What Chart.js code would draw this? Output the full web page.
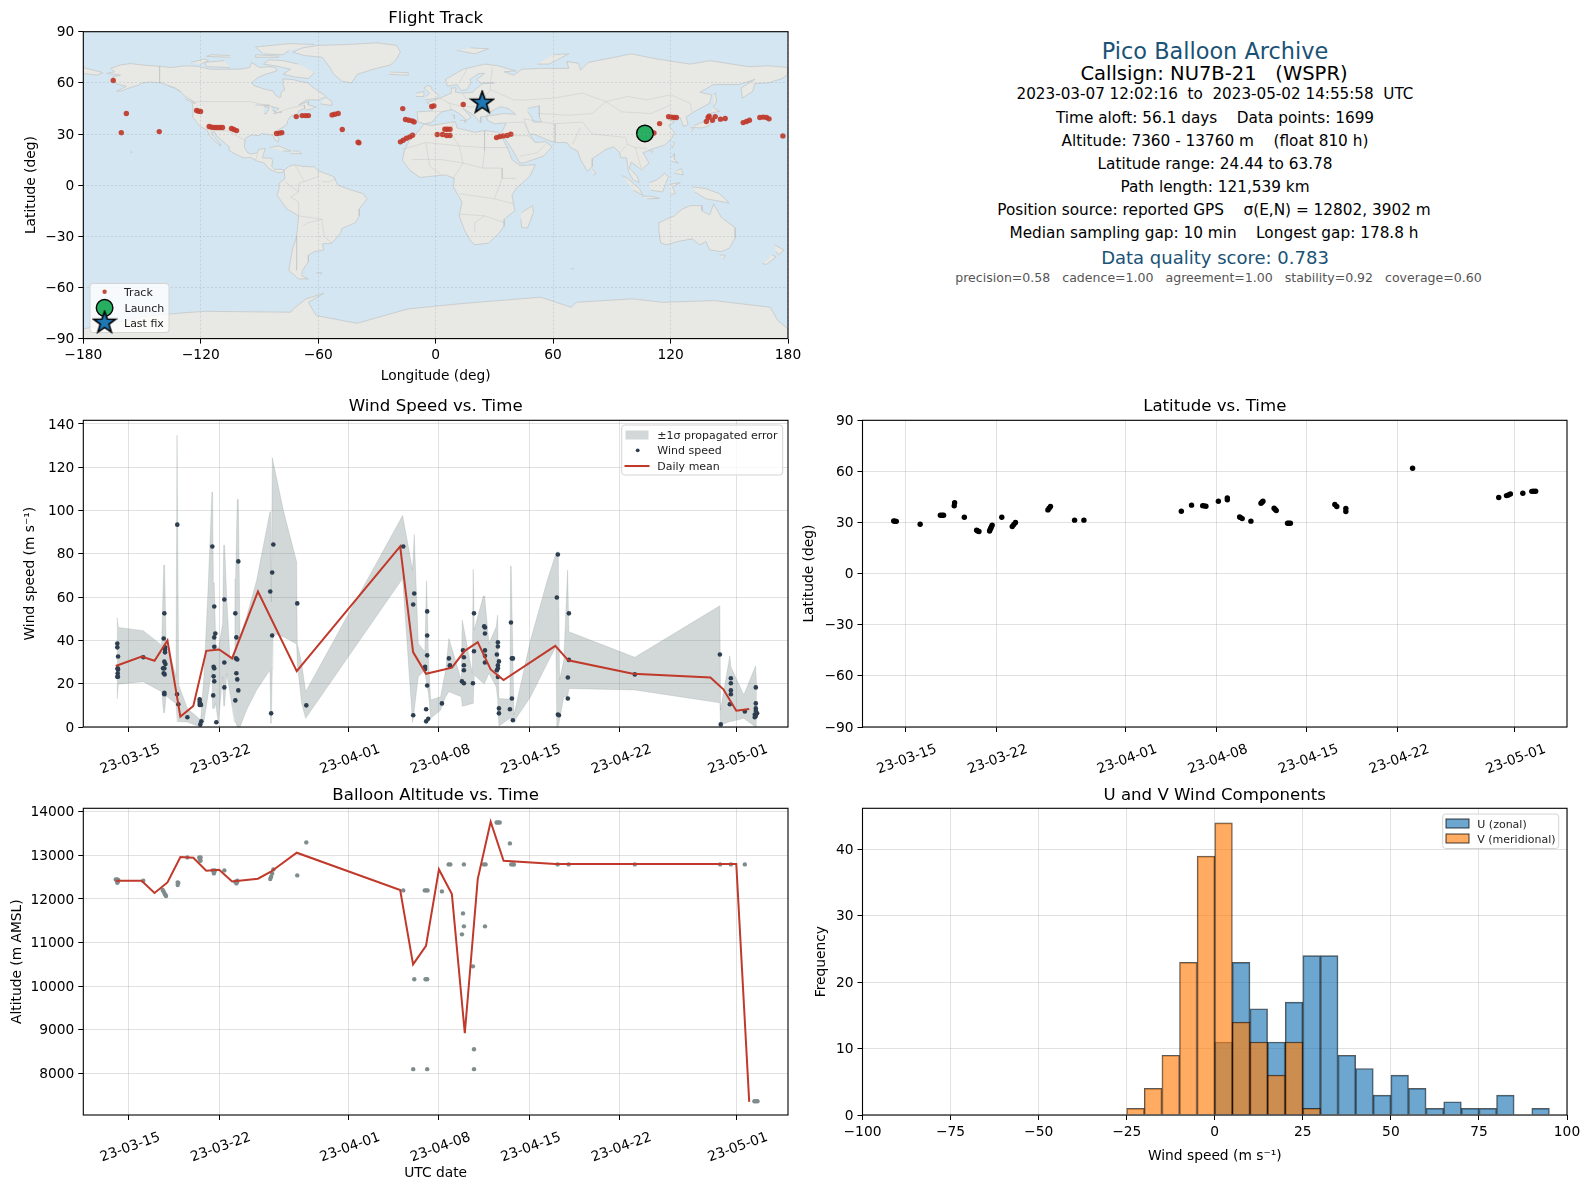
<!DOCTYPE html>
<html>
<head>
<meta charset="utf-8">
<title>Pico Balloon Archive</title>
<script src="https://cdn.jsdelivr.net/npm/chart.js@4"></script>
<style>
  html, body { margin: 0; padding: 0; background: #fff; }
  #page { position: relative; width: 1590px; height: 1189px; overflow: hidden; font-family: "DejaVu Sans", sans-serif; }
  canvas { position: absolute; }
  .info { position: absolute; left: 840px; width: 750px; text-align: center; white-space: pre; transform: translateY(-50%); color: #000; }
</style>
</head>
<body>
<div id="page">
  <canvas id="mapChart"></canvas>
  <canvas id="windChart"></canvas>
  <canvas id="latChart"></canvas>
  <canvas id="altChart"></canvas>
  <canvas id="histChart"></canvas>
</div>
<script>
// ---- tick labels
const dateTicks = [14, 21, 31, 38, 45, 52, 61]; // days since 2023-03-01
const dateTickLabels = ["23-03-15", "23-03-22", "23-04-01", "23-04-08", "23-04-15", "23-04-22", "23-05-01"];
const lonTicks = [-180, -120, -60, 0, 60, 120, 180];
const latTicks = [-90, -60, -30, 0, 30, 60, 90];
const windTicks = [0, 20, 40, 60, 80, 100, 120, 140];
const altTicks = [8000, 9000, 10000, 11000, 12000, 13000, 14000];
const histXTicks = [-100, -75, -50, -25, 0, 25, 50, 75, 100];
const histYTicks = [0, 10, 20, 30, 40];

// ---- text panel
const infoLines = [
  ["Pico Balloon Archive", 50.7, 22.4, "#1a5276", 0],
  ["Callsign: NU7B-21   (WSPR)", 73, 19.55, "#000", -1],
  ["2023-03-07 12:02:16  to  2023-05-02 14:55:58  UTC", 93.5, 15.2, "#000", 0],
  ["Time aloft: 56.1 days    Data points: 1699", 117.5, 15.3, "#000", 0],
  ["Altitude: 7360 - 13760 m    (float 810 h)", 140.5, 15.3, "#000", 0],
  ["Latitude range: 24.44 to 63.78", 163.5, 15.3, "#000", 0],
  ["Path length: 121,539 km", 186.5, 15.3, "#000", 0],
  ["Position source: reported GPS    σ(E,N) = 12802, 3902 m", 209.5, 15.3, "#000", -1],
  ["Median sampling gap: 10 min    Longest gap: 178.8 h", 232.5, 15.3, "#000", -1],
  ["Data quality score: 0.783", 257, 18, "#1a5276", 0],
  ["precision=0.58   cadence=1.00   agreement=1.00   stability=0.92   coverage=0.60", 277, 12.55, "#555", 3.5]
];

// ---- flight track
const trackLon = [-164.7,-158,-160.6,-141.2,-122.1,-121.1,-120.1,-115.7,-114.3,-112.9,-111.6,-110.2,-108.9,-104.3,-103.1,-101.7,-81.3,-79.9,-78.6,-71.2,-68.2,-66.5,-65,-52.9,-51.5,-49.8,-47.7,-39.6,-39.2,-16.8,-15.4,-13.7,-12,-11,-18,-16.6,-14.9,-13.2,-11.8,-2,-0.9,14.1,4.7,5.9,7.3,0.8,3.5,5.6,7.3,31.1,32.8,34.5,36.6,38.4,111.5,114.4,119,120.5,121.8,123,138.3,139.2,139.7,141.4,142.8,145.5,147.9,157.1,158.8,160.3,165.6,167.3,169,170.3,177.4];
const trackLat = [61.4,42,30.8,31.4,43.8,43.4,43.2,34.4,34,33.8,33.8,33.8,33.8,33.2,32.6,32,30.3,30.5,30.8,40.2,40.8,40.8,40.8,41.2,41.6,42,32.6,25.2,24.8,44.9,38.5,38.1,37.7,37.1,25.4,26.3,27.5,28.3,29.3,46.1,46.5,47.3,32.8,32.8,32.8,29.7,29.7,29.1,29.1,27.9,28.5,28.9,29.1,29.9,30.6,36.1,40.2,39.9,39.7,39.7,37.3,39.7,40.4,38.1,40.2,38.7,39.1,36.7,37.3,38.1,39.7,39.9,39.7,38.9,28.9];
const launchLon = [106.9];
const launchLat = [30.3];
const lastFixLon = [23.8];
const lastFixLat = [48.3];

// ---- land outlines, lon/lat pairs
const northAmerica = [[-168,65.5],[-164,66.5],[-166,68.5],[-161,70.5],[-156,71.3],[-148,70.3],[-141,69.7],[-135,69],[-128,70],[-122,69.8],[-115,68],[-108,68],[-100,68],[-95,69],[-94,72],[-90,69],[-85,69.5],[-82,69],[-81,67],[-87,65],[-91,63],[-94,60],[-93,58.5],[-88,56.5],[-83,55.2],[-82,53],[-80,51.3],[-79,52],[-79,54.5],[-77,56],[-78,59],[-78,62.3],[-73,62],[-70,61],[-65,60],[-64,58.5],[-61,56],[-57,53],[-56,51.7],[-60,50],[-66,50],[-70,47],[-65,49],[-65,47],[-61,46],[-64,44.5],[-66,44],[-67,45],[-70,43.5],[-70.5,41.7],[-74,40.5],[-75.5,38],[-76,35.5],[-78,34],[-81,32],[-81.3,30],[-80,27],[-80.5,25.2],[-82,26.5],[-83,29],[-85,29.7],[-89,30.2],[-90,29],[-94,29.5],[-97.3,27.5],[-97.7,22.5],[-96,19],[-94,18.2],[-91,19],[-90.5,21],[-87,21.5],[-88,18],[-88.5,16],[-84,15.8],[-83.3,14.5],[-83.7,11],[-82,9],[-79.5,9.5],[-77.5,8.6],[-78,7.5],[-80.5,7.3],[-83,8.3],[-85.5,10],[-87.5,13],[-91,14],[-94.5,16.2],[-98,16],[-102,18],[-105.5,20.3],[-105.5,22.5],[-109,26],[-112,29],[-113,31.3],[-114.7,31],[-113,28],[-110,24],[-110,23],[-112,25],[-115,28.5],[-117,32.5],[-120.5,34.5],[-122.5,37.5],[-124.3,40.5],[-124,46],[-124.5,48.3],[-122.5,48],[-125,50],[-128,52],[-130,54.5],[-133,57],[-137,58.5],[-140,60],[-146,60.5],[-150,60],[-152,58.5],[-156,57.2],[-160,55.5],[-163,55],[-158,58],[-162,59],[-165,61],[-165,63.5],[-161,64.5],[-168,65.5]];
const southAmerica = [[-77.5,8.6],[-75,11],[-72,12],[-68,11],[-62,10.7],[-60,8.5],[-52,5],[-50,0],[-44,-2.5],[-37,-5],[-35,-8],[-39,-14],[-39,-18],[-41,-22],[-48,-25.5],[-48.5,-28],[-53,-34],[-58,-34.5],[-57,-38],[-62,-39],[-65,-41],[-65,-45],[-68,-50],[-68.5,-53],[-65,-55],[-70,-55],[-75,-50],[-74,-43],[-73,-37],[-71,-30],[-70,-18],[-76,-14],[-81,-6],[-80,-2],[-80,1],[-77,4],[-77.5,8.6]];
const africa = [[-6,35.8],[-2,35],[10,37.3],[11,33.5],[20,31],[25,32],[32,31],[34,28],[37,21],[39,15],[43,11.5],[51,12],[48,5],[41,-2],[39,-6],[40.5,-15],[35,-20],[35,-24],[32.5,-28],[27,-34],[20,-35],[18,-33],[15,-27],[12,-18],[13.5,-10],[9,-1],[9.5,4],[5,6],[-4,5],[-8,4.5],[-13,8.5],[-17,14.7],[-16,20],[-13,27.5],[-10,30],[-6,35.8]];
const eurasia = [[-9,37],[-9.5,43],[-2,43.5],[-1,46],[-4.5,48.5],[2,51],[8,54],[8,57],[10.5,57],[10,54.5],[14,54],[19,54.5],[21,57],[24,59.5],[30,60],[23,60],[21,62],[25,65.5],[22,65.5],[17.5,62],[18,60],[16,56],[13,55.5],[11,59],[6,58],[5,62],[14,68],[25,71],[32,70],[41,67],[35,66.5],[40,64.5],[44,68],[54,68.5],[68,68.5],[67,72.5],[73,71.5],[74,67.5],[78,72],[87,74],[100,77],[113,74],[130,71],[140,73],[160,69.5],[170,70],[180,69],[180,65],[177,62.5],[170,60],[163,59.5],[162,55],[156.7,51],[156,57],[163,62],[155,59],[142,59],[135,54.5],[141,53],[140,48],[132,43],[128,40],[129,35.5],[126.5,34.5],[125,39.5],[121,39],[118,39],[122,37],[119,35],[122,31],[121,28],[117,23.5],[110,21],[106,19],[109,13],[105,9],[103,11],[100,13.5],[99,10],[103,5],[104,1.5],[101,3],[98.5,8],[97.5,16],[94.5,16],[94,19],[91,22.5],[87,21],[80,15.5],[80,11],[77.5,8],[74,15],[72.5,20],[69,22],[67,25],[61,25],[57,26.5],[50,30],[48,29.5],[51,25],[56,25.5],[59.5,22.5],[55,17],[45,13],[43,13],[39,21],[35,28],[32.5,30],[34,31.5],[36,36.5],[30,36],[26.5,38],[26,40.5],[29,41],[35,42],[41,41.5],[37,45],[33,46],[28,43],[26,40.5],[23,40],[23,36.5],[19.5,41],[14,45],[18,40],[16,38],[12,42],[8.5,44.3],[3,43],[0,39.5],[-2,36.8],[-5.5,36],[-9,37]];
const australia = [[114,-22],[122,-18],[126,-14],[130,-12],[136,-12],[136,-15],[140,-17.5],[142,-11],[146,-19],[153,-25],[153,-31],[150,-37],[146,-39],[140,-38],[138,-33],[135,-35],[131,-31.5],[124,-33],[118,-35],[115,-34],[114,-27],[114,-22]];
const greenland = [[-73,78],[-68,80.5],[-60,82],[-45,82.5],[-30,83.5],[-20,82],[-18,78],[-20,74],[-23,70.5],[-32,68],[-40,65],[-43,60],[-48,61],[-52,65],[-54,69],[-58,75],[-67,76],[-73,78]];
const antarctica = [[-180,-90],[-180,-84.3],[-160,-80],[-150,-77],[-130,-75],[-118.3,-74],[-74,-74.5],[-72.8,-72.6],[-66.2,-66.7],[-57.1,-63.4],[-65,-68.7],[-61,-76.5],[-40.2,-81],[-14.1,-72.6],[12,-69.6],[53.6,-65.7],[69.3,-71.6],[71.9,-68.7],[100.5,-66.7],[116.2,-68.7],[142.2,-67.7],[170.9,-71.6],[174.8,-79.4],[180,-84.3],[180,-90],[-180,-90]];
const islands = [
  [[-62,66],[-65,62.5],[-72,63.5],[-78,65],[-74,68],[-82,70],[-88,71],[-85,73.5],[-78,73],[-70,71]],
  [[-105,69],[-117,69.5],[-118,72],[-108,73]],
  [[-62,82.5],[-75,83],[-92,81],[-88,77],[-78,76.5],[-75,79]],
  [[-125,72],[-118,74],[-116,73],[-120,71]],
  [[-80,75],[-92,75],[-92,76.5],[-80,75.7]],
  [[-105,75],[-117,75.5],[-115,76.5],[-105,76]],
  [[-59,47.7],[-53,46.7],[-53,49],[-56,51.5]],
  [[-85,22],[-80,23],[-74,20],[-78,20]],
  [[-74,18.5],[-68.5,18.5],[-70,20],[-73,20]],
  [[-156,20],[-155,19.2],[-155.9,19]],
  [[-128,50.5],[-124,48.5],[-125,50.5]],
  [[-180,69],[-175,67.5],[-170,66],[-173,64.5],[-180,65.5]],
  [[-5.5,50],[1,51],[1.5,53],[-2,56],[-2,57.5],[-4,58.5],[-6,57],[-3,54],[-5,52]],
  [[-10,52],[-6,52],[-6,55],[-10,54]],
  [[-24,65],[-14,64.5],[-14,66],[-23,66.3]],
  [[11,79],[20,77],[27,80],[18,80.5]],
  [[52,71],[58,71],[68,77],[60,76.5]],
  [[12.5,38],[15.5,38],[15,36.7]],
  [[8.3,41],[9.7,41],[9.5,39]],
  [[44,-16],[49.5,-12],[50,-16],[47,-25],[44,-25],[43.5,-20]],
  [[80,9.5],[82,7],[80.5,6]],
  [[130.8,34],[136,33.5],[140,35],[141.5,38.5],[141,41],[139.8,39],[136.5,37],[132,35]],
  [[140,42],[145,43.3],[142,45.5]],
  [[130,33.5],[131.8,33.5],[130.5,31.2]],
  [[142,46],[143.5,49],[143,54],[142,53]],
  [[120.2,23],[121,22],[122,25],[121,25.2]],
  [[109,20],[111,20],[110,18.3]],
  [[120.3,16],[122,18.5],[122,15],[124,13],[120.5,14]],
  [[122,7],[126.5,6],[125.5,9.7],[123,8.5]],
  [[109,1.5],[113,3],[117,7],[119,5],[117.5,1],[116,-4],[110,-3]],
  [[95.3,5.6],[98,4],[104,-2],[106,-6],[101,-3]],
  [[105.5,-6.5],[110,-6.5],[114.5,-7.8],[108,-8]],
  [[119.5,0.5],[125,1.5],[121,-1],[122.5,-5],[120,-5.5]],
  [[131,-1],[138,-2],[145,-5],[150,-10.5],[143,-9],[138,-8],[132.5,-4]],
  [[145,-41],[148,-41],[147,-43.5]],
  [[173,-35],[178,-38],[175,-41],[174,-39]],
  [[172,-41],[174,-42],[169,-46.5],[167,-46]],
  [[-61,-51.5],[-58,-51.5],[-59,-52.3]],
  [[69,-49],[70.5,-49],[70,-49.7]]
];
const lakes = [
  [[47,45],[53,46.5],[53,40],[54,37],[50,37],[49,40],[47,43]],
  [[-92,47],[-85,47],[-85,46.5],[-88,46.5]],
  [[-87.5,46],[-85,45.5],[-86.5,42],[-87.8,42]],
  [[-84,46],[-80,45],[-82,43],[-83.5,44]],
  [[-83,42],[-79,43],[-79,42.5]]
];
const borders = [
  [[-141,69.7],[-141,60]],[[-137,58.5],[-130,55]],[[-123,49],[-95,49],[-83,46],[-82,42],[-75,45],[-67,47],[-67,45]],
  [[-117,32.5],[-106,31.7],[-97,26]],[[-92,14.5],[-91,18]],[[-70,-18],[-58,-20],[-57,-30],[-53,-34]],
  [[-70,-18],[-70,-10],[-74,-7],[-70,-4],[-77,2]],[[-70,-4],[-70,1],[-60,5],[-60,8.5]],[[-71,-30],[-71,-50]],
  [[-58,-20],[-65,-22],[-68,-24]],[[-72,12],[-67,2]],[[-58,2],[-54,2],[-51,4]],
  [[-17,21],[-5,25],[12,23],[25,22],[37,22]],[[25,32],[25,20],[24,10],[34,10],[34,4],[41,4]],[[12,23],[14,13],[9,4]],
  [[-5,25],[-3,11],[3,6]],[[12,-5],[30,-8],[40,-11]],[[12,-17],[25,-18],[35,-22]],[[20,-28],[20,-22],[25,-18]],
  [[9,37],[8,30],[12,23]],[[-12,15],[3,15],[14,13]],[[34,4],[30,-8]],[[14,13],[24,10]],
  [[28,56],[40,50],[47,50],[60,51],[75,54],[87,49],[98,52],[108,50],[120,53],[130,48],[131,43]],
  [[75,37],[80,30],[97,28],[98,24],[102,22],[108,21.5]],[[87,49],[95,43],[110,42],[120,47]],
  [[52,42],[68,41],[80,42],[87,49]],[[45,39],[48,30]],[[61,36],[61,25]],[[45,39],[54,37],[61,36],[75,37]],
  [[74,34],[70,24]],[[36,36.5],[45,37],[48,30]],[[35,29],[47,29],[51,25]],[[43,17],[52,19],[56,24]],
  [[2,51],[7,48],[14,46],[20,46],[28,45]],[[24,50],[28,45]],[[14,54],[15,51],[24,50],[28,56],[28,60]],
  [[-2,43.5],[3,43]],[[7,48],[8,44]],[[12,60],[16,68]],[[28,60],[29,69]],[[98,24],[94,19]],[[102,22],[105,10]]
];

// ---- wind speed samples
const windDays = [13.12,13.12,13.18,13.15,13.18,13.15,13.12,13.17,13.15,15.13,16.76,16.71,16.81,16.81,16.81,16.76,16.84,16.66,16.76,16.71,16.78,16.76,16.76,17.76,17.74,17.84,18.54,19.49,19.49,19.49,19.59,19.52,19.62,19.54,20.47,20.62,20.7,20.62,20.62,20.57,20.62,20.57,20.62,20.54,20.78,21.4,21.4,21.4,22.25,22.33,22.3,22.4,22.33,22.4,22.48,22.25,22.48,24.95,25.1,25.19,25.1,25.02,27.04,27.74,35.24,36.09,36.01,36.01,37.09,37.09,37.09,36.93,36.93,37.09,37.01,37.01,37.17,38.23,38.77,38.85,38.85,39.86,39.93,39.93,39.93,39.78,39.93,40.71,40.71,40.63,41.5,41.56,41.56,41.56,41.56,41.56,42.56,42.56,42.48,42.64,42.56,42.56,42.48,42.56,42.64,42.64,43.57,43.64,43.72,43.64,43.49,43.72,47.2,47.12,47.2,47.28,48.05,48.05,47.97,47.97,53.15,59.73,59.8,60.58,60.58,60.58,60.58,60.5,61.66,62.51,62.51,62.51,62.51,62.61,62.43,62.51,62.43];
const windValues = [38.6,36.8,32.6,27.1,26.6,24.8,23.2,23.2,26.8,32.2,52.5,40.9,36.8,35.8,34.5,30.2,29.1,27.1,27.1,24.8,24.3,15.8,15.1,93.5,15.1,10.5,4.5,12.8,11.7,10.2,10.2,10.9,2.6,1.2,83.4,55.7,43.2,41.4,37.1,27.8,27.1,23.4,21.1,14.6,2.2,58.9,29.8,18.3,52.5,41.4,31.7,31.2,24.8,22,16.9,12.3,76.5,62.6,71.4,84.3,42.3,6.3,57.1,10,83.4,61.7,56.6,5.4,53.4,42.3,33.1,27.8,26.8,19.2,8.2,2.6,3.8,10.9,31.7,28.5,28.2,35.4,32.2,28.5,26.2,21.1,20.2,52.5,35,20.2,46.5,46,43.2,35.4,32.9,29.8,39.1,37.2,33.5,30.3,28.5,27.1,26.2,23.1,8.6,6.3,48.3,31.7,31.7,13.2,8.2,3.1,79.7,59.8,5.8,5.4,52.5,31,22.9,13.2,24.3,33.5,1.2,22.5,20.2,16.9,15.1,10.5,7.2,18.3,10.9,8.6,7.5,6.3,5.7,5.1,4.5];
const meanDays = [13,15,16,17,18,19,20,21,22,24,27,35,36,37,38,39,40,41,42,43,47,48,53,59,60,61,62];
const meanWind = [28.2,32.6,30.6,40,4.8,9.7,35.2,35.8,31.7,62.6,25.8,83.4,34.6,24.6,26,27.4,35.2,39.2,26.6,21.7,37.5,30.8,24.6,22.9,17.4,7.5,8.3];
const bandDays = [13.07,13.12,13.2,15.13,16.55,16.71,16.78,16.89,17.66,17.74,17.79,17.87,18.54,19.13,19.57,19.82,20.16,20.44,20.49,20.55,20.62,20.73,20.93,21.27,21.35,21.42,21.58,21.84,22.17,22.22,22.27,22.4,22.48,22.61,23.12,23.9,24.93,24.98,25.03,25.11,25.16,25.96,26.99,27.04,27.38,27.69,35.19,35.96,36.09,36.4,36.91,37.04,37.2,37.36,38.13,38.52,38.77,39.73,39.8,39.93,40.58,40.65,40.73,41.43,41.53,41.87,42.43,42.54,42.64,43.49,43.54,43.59,43.8,45.09,46.38,47.05,47.12,47.23,47.33,47.66,47.95,48.05,53.15,59.73,59.78,60.5,60.58,61.58,62.49,62.59];
const bandUpper = [50.2,50.2,46,44.5,37.8,74.8,74.8,39.8,23.2,134.8,134.8,19.4,8.6,5.5,3.2,23.2,66.3,108.6,108.6,66.3,66.6,38.6,35.5,47.8,84,84,60.2,30.9,34,68.3,68.3,105.1,105.1,41.7,50.9,67.8,99.4,99.4,57.8,124.5,124.5,100.2,76.3,38.6,29.4,16.3,97.7,72.5,88.9,38.6,34.8,67.5,30,12.5,14,26.3,40.9,21.7,49.4,45.5,24.8,72.8,44.8,60.5,60.5,38.6,46.3,51.7,13.2,12.8,74.3,74.3,5.5,40.2,67.8,80.2,80.9,80.9,21.7,30.9,72.5,44,32.2,56,7.8,32.8,27.8,14.8,28.2,17.4];
const bandLower = [13.2,13.2,19.8,20.9,16.3,6.6,6.6,14.3,10.9,2.5,2.5,2.5,2.3,0.9,0,2.5,15.5,26.3,8.6,8.6,8.6,10.9,1.7,23.2,9.7,9.7,24.8,15.5,2.3,2.3,2.3,0,0,0,7.8,17.1,26.3,1.7,1.7,27.1,43.2,41.7,38.3,29.4,10.9,4,68.6,2,7.8,23.2,26.3,20.2,15,4,7.8,14,16.3,14,9.7,9.7,10.9,10.9,24,20.2,20.2,24.8,18.6,13.2,0.5,4,4,3.2,2.5,14,29.4,37.1,0.2,0.2,3.2,14,14,17.8,17.1,11.2,0.9,2.5,2.5,4,0,0];

// ---- latitude samples
const latDays = [13.1,13.2,13.3,15.14,16.7,16.83,16.95,17.77,17.8,18.55,19.5,19.58,19.68,20.5,20.55,20.6,20.65,20.7,21.44,22.25,22.37,22.5,25,25.1,25.2,27.06,27.78,35.3,36.09,36.95,37.05,37.2,38.16,38.85,38.85,39.8,39.88,40,40.67,41.45,41.53,41.6,42.46,42.55,42.63,43.5,43.6,43.72,47.15,47.3,48,48,53.15,59.8,60.4,60.55,60.7,61.66,62.35,62.48,62.65];
const latValues = [30.9,30.8,30.7,29,34.3,34.3,34.3,39.8,41.6,33.1,25.5,25.1,24.7,25,26,26.8,27.6,28.5,33.1,27.7,28.9,30,37.4,38.4,39.4,31.4,31.4,36.6,40.2,39.9,39.8,39.6,42.5,44.5,43.3,33.3,32.9,32.3,30.8,41.3,41.9,42.5,38.4,37.7,37,29.6,29.6,29.6,40.6,39.4,38.2,36.5,61.9,44.7,45.8,46.2,46.8,47.2,48.3,48.4,48.4];

// ---- altitude samples
const altDays = [13,13.12,13.2,13.12,13.07,13.17,15.13,16.63,16.71,16.78,16.84,16.89,17.79,17.79,17.84,18.54,19.46,19.56,19.51,19.56,20.49,20.67,20.59,20.62,21.4,22.25,22.4,22.33,22.4,24.95,25.02,25.1,25.19,27.04,27.74,35.24,36.9,37.01,37.12,36.09,36.96,37.09,36.01,37.09,38.23,38.75,38.88,39.93,39.86,39.93,39.78,41.48,41.61,41.56,42.46,42.58,42.7,43.49,43.59,43.72,43.8,47.18,48.03,53.15,59.75,60.58,61.66,62.4,62.51,62.64];
const altValues = [12448,12448,12430,12372,12420,12400,12417,12203,12165,12119,12089,12066,12379,12318,12364,12953,12953,12953,12907,12876,12654,12654,12586,12616,12654,12394,12417,12356,12394,12456,12509,12586,12677,12540,13297,12196,12196,12196,12196,10156,10156,10156,8092,8092,12173,12792,12792,12792,11668,11370,11187,12792,12792,11370,13755,13755,13755,13274,12792,12792,12792,12792,12792,12792,12792,12792,12792,7356,7356,7356];
const altMeanDays = [13,15,16,17,18,19,20,21,22,24,25,27,35,36,37,38,39,40,41,42,43,47,48,53,59,60,61,62];
const altMean = [12417,12417,12135,12379,12960,12945,12647,12670,12402,12463,12624,13060,12203,10497,10925,12677,12112,8916,12456,13771,12876,12800,12800,12800,12800,12800,12800,7341];
const altExtraDays = [40.63,40.71,40.71];
const altExtraValues = [10452,8549,8092];

// ---- histogram
const binCentres = [-97.5,-92.5,-87.5,-82.5,-77.5,-72.5,-67.5,-62.5,-57.5,-52.5,-47.5,-42.5,-37.5,-32.5,-27.5,-22.5,-17.5,-12.5,-7.5,-2.5,2.5,7.5,12.5,17.5,22.5,27.5,32.5,37.5,42.5,47.5,52.5,57.5,62.5,67.5,72.5,77.5,82.5,87.5,92.5,97.5];
const uCounts = [0,0,0,0,0,0,0,0,0,0,0,0,0,0,0,0,0,0,0,0,11,23,16,11,17,24,24,9,7,3,6,4,1,2,1,1,3,0,1,0];
const vCounts = [0,0,0,0,0,0,0,0,0,0,0,0,0,0,0,1,4,9,23,39,44,14,11,6,11,1,0,0,0,0,0,0,0,0,0,0,0,0,0,0];

const RED = "#c0392b", DARK = "#2c3e50", GREY = "#7f8c8d", OCEAN = "#d4e6f1", LAND = "#e8e8e4", COAST = "#c4c8c8";
const FONT = "'DejaVu Sans', sans-serif";
Chart.defaults.font.family = FONT;
Chart.defaults.color = "#000";

const pts = (xs, ys) => xs.map((x, i) => ({ x: x, y: ys[i] }));
const pairs = (arr) => arr.map(p => ({ x: p[0], y: p[1] }));
const minus = (v) => String(v).replace("-", "\u2212");

// 5 point star, chart.js 'star' is only an asterisk
function starSprite(size) {
  const c = document.createElement("canvas");
  c.width = c.height = size;
  const g = c.getContext("2d");
  const m = size / 2, R = m - 1.5, r = R * 0.4;
  g.beginPath();
  for (let i = 0; i < 10; i++) {
    const a = -Math.PI / 2 + i * Math.PI / 5, d = i % 2 ? r : R;
    g.lineTo(m + d * Math.cos(a), m + d * Math.sin(a));
  }
  g.closePath();
  g.fillStyle = "#1f77b4";
  g.strokeStyle = "#000";
  g.lineWidth = 1.6;
  g.fill();
  g.stroke();
  return c;
}
const STAR = starSprite(26);

// border round the plot area, drawn on top of everything
const framePlugin = {
  id: "frame",
  afterDraw(chart) {
    const a = chart.chartArea, g = chart.ctx;
    g.save();
    g.strokeStyle = "#000";
    g.lineWidth = 1.1;
    g.strokeRect(a.left, a.top, a.right - a.left, a.bottom - a.top);
    g.restore();
  }
};

function legendPlugin(box, items) {
  return {
    id: "boxLegend",
    afterDraw(chart) {
      const g = chart.ctx;
      g.save();
      g.beginPath();
      g.roundRect(box.x, box.y, box.w, box.h, 3);
      g.fillStyle = "rgba(255,255,255,0.8)";
      g.fill();
      g.strokeStyle = "#d4d4d4";
      g.lineWidth = 1;
      g.stroke();
      g.font = "11px " + FONT;
      g.textBaseline = "middle";
      items.forEach(it => {
        const mx = it.mx, my = it.y;
        if (it.kind === "dot") {
          g.beginPath(); g.arc(mx, my, it.r, 0, Math.PI * 2); g.fillStyle = it.color; g.fill();
          if (it.edge) { g.strokeStyle = it.edge; g.lineWidth = 1.4; g.stroke(); }
        } else if (it.kind === "star") {
          g.drawImage(STAR, mx - 13, my - 13);
        } else if (it.kind === "line") {
          g.beginPath(); g.moveTo(mx - 12.5, my); g.lineTo(mx + 12.5, my); g.strokeStyle = it.color; g.lineWidth = 2; g.stroke();
        } else if (it.kind === "patch") {
          g.fillStyle = it.color; g.fillRect(mx - 11.5, my - 4.5, 23, 9);
          if (it.edge) { g.strokeStyle = it.edge; g.lineWidth = 1; g.strokeRect(mx - 11.5, my - 4.5, 23, 9); }
        }
        g.fillStyle = "#222";
        g.fillText(it.label, it.tx, my + 1.2);
      });
      g.restore();
    }
  };
}

function axis(opt) {
  const left = opt.pos === "left";
  return {
    type: "linear",
    position: opt.pos,
    min: opt.min,
    max: opt.max,
    offset: false,
    afterBuildTicks: s => { s.ticks = opt.ticks.map(v => ({ value: v })); },
    afterFit: s => {
      if (left) { s.width = opt.size; s.paddingTop = 0; s.paddingBottom = 0; }
      else { s.height = opt.size; s.paddingLeft = 0; s.paddingRight = 0; }
    },
    title: opt.title ? { display: true, text: opt.title, font: { size: 13.8 }, padding: left ? { top: opt.titlePad, bottom: 0 } : { top: 0, bottom: opt.titlePad } } : { display: false },
    border: { display: false, dash: opt.dash || [] },
    grid: { offset: false, color: opt.gridColor || "rgba(176,176,176,0.38)", lineWidth: 1, z: opt.gridZ || -1, tickColor: "#000", tickLength: 5, tickBorderDash: [] },
    ticks: {
      autoSkip: false,
      padding: opt.rotate ? 9 : 4,
      font: { size: 13.8 },
      minRotation: opt.rotate || 0,
      maxRotation: opt.rotate || 0,
      labelOffset: opt.rotate ? 31 : (left ? 1 : 0),
      callback: opt.labels ? (v, i) => opt.labels[i] : v => minus(v)
    }
  };
}

// one axes panel; box is the canvas in page pixels, plus the gaps to the plot area
function panel(id, box, title, scales, datasets, extra) {
  const cv = document.getElementById(id);
  cv.width = box.w; cv.height = box.h;
  cv.style.left = box.x + "px";
  cv.style.top = box.y + "px";
  cv.style.width = box.w + "px";
  cv.style.height = box.h + "px";
  const gap = box.gap === undefined ? 4 : box.gap;
  return new Chart(cv, {
    type: extra && extra.type || "scatter",
    data: { datasets: datasets },
    options: {
      responsive: false,
      devicePixelRatio: 1,
      animation: false,
      events: [],
      layout: { padding: { left: 0, right: box.r, top: 0, bottom: 0 } },
      plugins: {
        legend: { display: false },
        tooltip: { enabled: false },
        title: { display: true, fullSize: false, text: title, color: "#000", font: { size: 16.6, weight: "normal", lineHeight: 1.2 }, padding: { top: box.t - 19.92 - gap, bottom: gap } }
      },
      scales: scales
    },
    plugins: [framePlugin].concat(extra && extra.plugins || [])
  });
}

const polyDataset = (poly, fill, order) => ({
  type: "line", data: pairs(poly), fill: "shape", backgroundColor: fill, borderColor: COAST,
  borderWidth: 0.8, pointRadius: 0, tension: 0, order: order
});

// ---- flight track map
const mapSets = [];
[northAmerica, southAmerica, africa, eurasia, australia, greenland, antarctica].concat(islands).forEach(p => mapSets.push(polyDataset(p, LAND, 30)));
lakes.forEach(p => mapSets.push(polyDataset(p, OCEAN, 25)));
borders.forEach(b => mapSets.push({ type: "line", data: pairs(b), fill: false, borderColor: "rgba(175,180,180,0.4)", borderWidth: 0.7, pointRadius: 0, tension: 0, order: 20 }));
mapSets.push({ label: "Track", data: pts(trackLon, trackLat), backgroundColor: "rgba(192,57,43,0.92)", borderWidth: 0, pointRadius: 2.7, order: 3 });
mapSets.push({ label: "Launch", data: pts(launchLon, launchLat), backgroundColor: "#27ae60", borderColor: "#000", borderWidth: 1.4, pointRadius: 8.3, order: 2 });
mapSets.push({ label: "Last fix", data: pts(lastFixLon, lastFixLat), pointStyle: STAR, order: 1 });

const mapBox = { x: 0, y: 0, w: 815, h: 395, t: 31.7, r: 27, gap: 3 };
const oceanPlugin = {
  id: "ocean",
  beforeDatasetsDraw(chart) {
    const a = chart.chartArea, g = chart.ctx;
    g.save();
    g.fillStyle = OCEAN;
    g.fillRect(a.left, a.top, a.right - a.left, a.bottom - a.top);
    g.restore();
  }
};
panel("mapChart", mapBox, "Flight Track", {
  x: axis({ pos: "bottom", min: -180, max: 180, ticks: lonTicks, size: 56.4, title: "Longitude (deg)", titlePad: 10, dash: [2, 2], gridColor: "rgba(150,160,165,0.3)", gridZ: 1 }),
  y: axis({ pos: "left", min: -90, max: 90, ticks: latTicks, size: 83.3, title: "Latitude (deg)", titlePad: 23, dash: [2, 2], gridColor: "rgba(150,160,165,0.3)", gridZ: 1 })
}, mapSets, { plugins: [oceanPlugin, legendPlugin({ x: 90, y: 283.5, w: 79, h: 49 }, [
  { kind: "dot", label: "Track", r: 2.2, color: "rgba(192,57,43,0.92)", mx: 104.6, tx: 124, y: 291.8 },
  { kind: "dot", label: "Launch", r: 8.3, color: "#27ae60", edge: "#000", mx: 104.6, tx: 124.5, y: 307.8 },
  { kind: "star", label: "Last fix", mx: 104.6, tx: 124, y: 322.8 }
])] });

// ---- wind speed
const windBox = { x: 0, y: 390, w: 815, h: 390, t: 30.3, r: 27 };
panel("windChart", windBox, "Wind Speed vs. Time", {
  x: axis({ pos: "bottom", min: 10.49, max: 65, ticks: dateTicks, labels: dateTickLabels, rotate: 20, size: 53 }),
  y: axis({ pos: "left", min: 0, max: 141.7, ticks: windTicks, size: 83.3, title: "Wind speed (m s\u207B\u00B9)", titlePad: 22 })
}, [
  { type: "line", data: pts(bandDays, bandUpper), fill: "+1", backgroundColor: "rgba(127,140,141,0.35)", borderColor: "rgba(127,140,141,0.3)", borderWidth: 0.7, pointRadius: 0, tension: 0, order: 5 },
  { type: "line", data: pts(bandDays, bandLower), fill: false, borderColor: "rgba(127,140,141,0.3)", borderWidth: 0.7, pointRadius: 0, tension: 0, order: 5 },
  { label: "Wind speed", data: pts(windDays, windValues), backgroundColor: DARK, borderWidth: 0, pointRadius: 2.3, order: 2 },
  { type: "line", label: "Daily mean", data: pts(meanDays, meanWind), borderColor: RED, backgroundColor: RED, borderWidth: 2, fill: false, pointRadius: 0, tension: 0, order: 1 }
], { plugins: [legendPlugin({ x: 621.7, y: 35, w: 161, h: 50 }, [
  { kind: "patch", label: "\u00B11\u03C3 propagated error", color: "rgba(127,140,141,0.35)", mx: 637, tx: 657.3, y: 45 },
  { kind: "dot", label: "Wind speed", r: 1.9, color: DARK, mx: 637.7, tx: 657.3, y: 60.3 },
  { kind: "line", label: "Daily mean", color: RED, mx: 637, tx: 657.3, y: 76 }
])] });

// ---- latitude
const latBox = { x: 795, y: 390, w: 795, h: 390, t: 30.3, r: 23 };
panel("latChart", latBox, "Latitude vs. Time", {
  x: axis({ pos: "bottom", min: 10.69, max: 65.07, ticks: dateTicks, labels: dateTickLabels, rotate: 20, size: 53 }),
  y: axis({ pos: "left", min: -90, max: 90, ticks: latTicks, size: 67.5, title: "Latitude (deg)", titlePad: 6 })
}, [
  { data: pts(latDays, latValues), backgroundColor: "#000", borderWidth: 0, pointRadius: 2.7 }
]);

// ---- altitude
const altBox = { x: 0, y: 780, w: 815, h: 409, t: 28.3, r: 27, gap: 3 };
panel("altChart", altBox, "Balloon Altitude vs. Time", {
  x: axis({ pos: "bottom", min: 10.49, max: 65, ticks: dateTicks, labels: dateTickLabels, rotate: 20, size: 74, title: "UTC date", titlePad: 7.5 }),
  y: axis({ pos: "left", min: 7040, max: 14080, ticks: altTicks, size: 83.3, title: "Altitude (m AMSL)", titlePad: 9 })
}, [
  { data: pts(altDays.concat(altExtraDays), altValues.concat(altExtraValues)), backgroundColor: GREY, borderWidth: 0, pointRadius: 2.2, order: 2 },
  { type: "line", data: pts(altMeanDays, altMean), borderColor: RED, borderWidth: 2, fill: false, pointRadius: 0, tension: 0, order: 1 }
]);

// ---- histogram of U and V
const histBox = { x: 795, y: 780, w: 795, h: 409, t: 28.3, r: 23, gap: 3 };
panel("histChart", histBox, "U and V Wind Components", {
  x: axis({ pos: "bottom", min: -100, max: 100, ticks: histXTicks, size: 74, title: "Wind speed (m s\u207B\u00B9)", titlePad: 24 }),
  y: axis({ pos: "left", min: 0, max: 46.2, ticks: histYTicks, size: 67.5, title: "Frequency", titlePad: 18 })
}, [
  { label: "U (zonal)", data: pts(binCentres, uCounts), backgroundColor: "rgba(31,119,180,0.65)", borderColor: "rgba(0,0,0,0.65)", borderWidth: 1, barPercentage: 1, categoryPercentage: 1, grouped: false, order: 2 },
  { label: "V (meridional)", data: pts(binCentres, vCounts), backgroundColor: "rgba(255,127,14,0.65)", borderColor: "rgba(0,0,0,0.65)", borderWidth: 1, barPercentage: 1, categoryPercentage: 1, grouped: false, order: 1 }
], { type: "bar", plugins: [legendPlugin({ x: 647.7, y: 34, w: 116, h: 34.5 }, [
  { kind: "patch", label: "U (zonal)", color: "rgba(31,119,180,0.65)", edge: "rgba(0,0,0,0.75)", mx: 662.5, tx: 682.3, y: 43.5 },
  { kind: "patch", label: "V (meridional)", color: "rgba(255,127,14,0.65)", edge: "rgba(0,0,0,0.75)", mx: 662.5, tx: 682.3, y: 58.5 }
])] });

// ---- text panel
const page = document.getElementById("page");
infoLines.forEach(l => {
  const d = document.createElement("div");
  d.className = "info";
  d.textContent = l[0];
  d.style.top = l[1] + "px";
  d.style.fontSize = l[2] + "px";
  d.style.color = l[3];
  d.style.marginLeft = l[4] + "px";
  page.appendChild(d);
});
</script>
</body>
</html>
